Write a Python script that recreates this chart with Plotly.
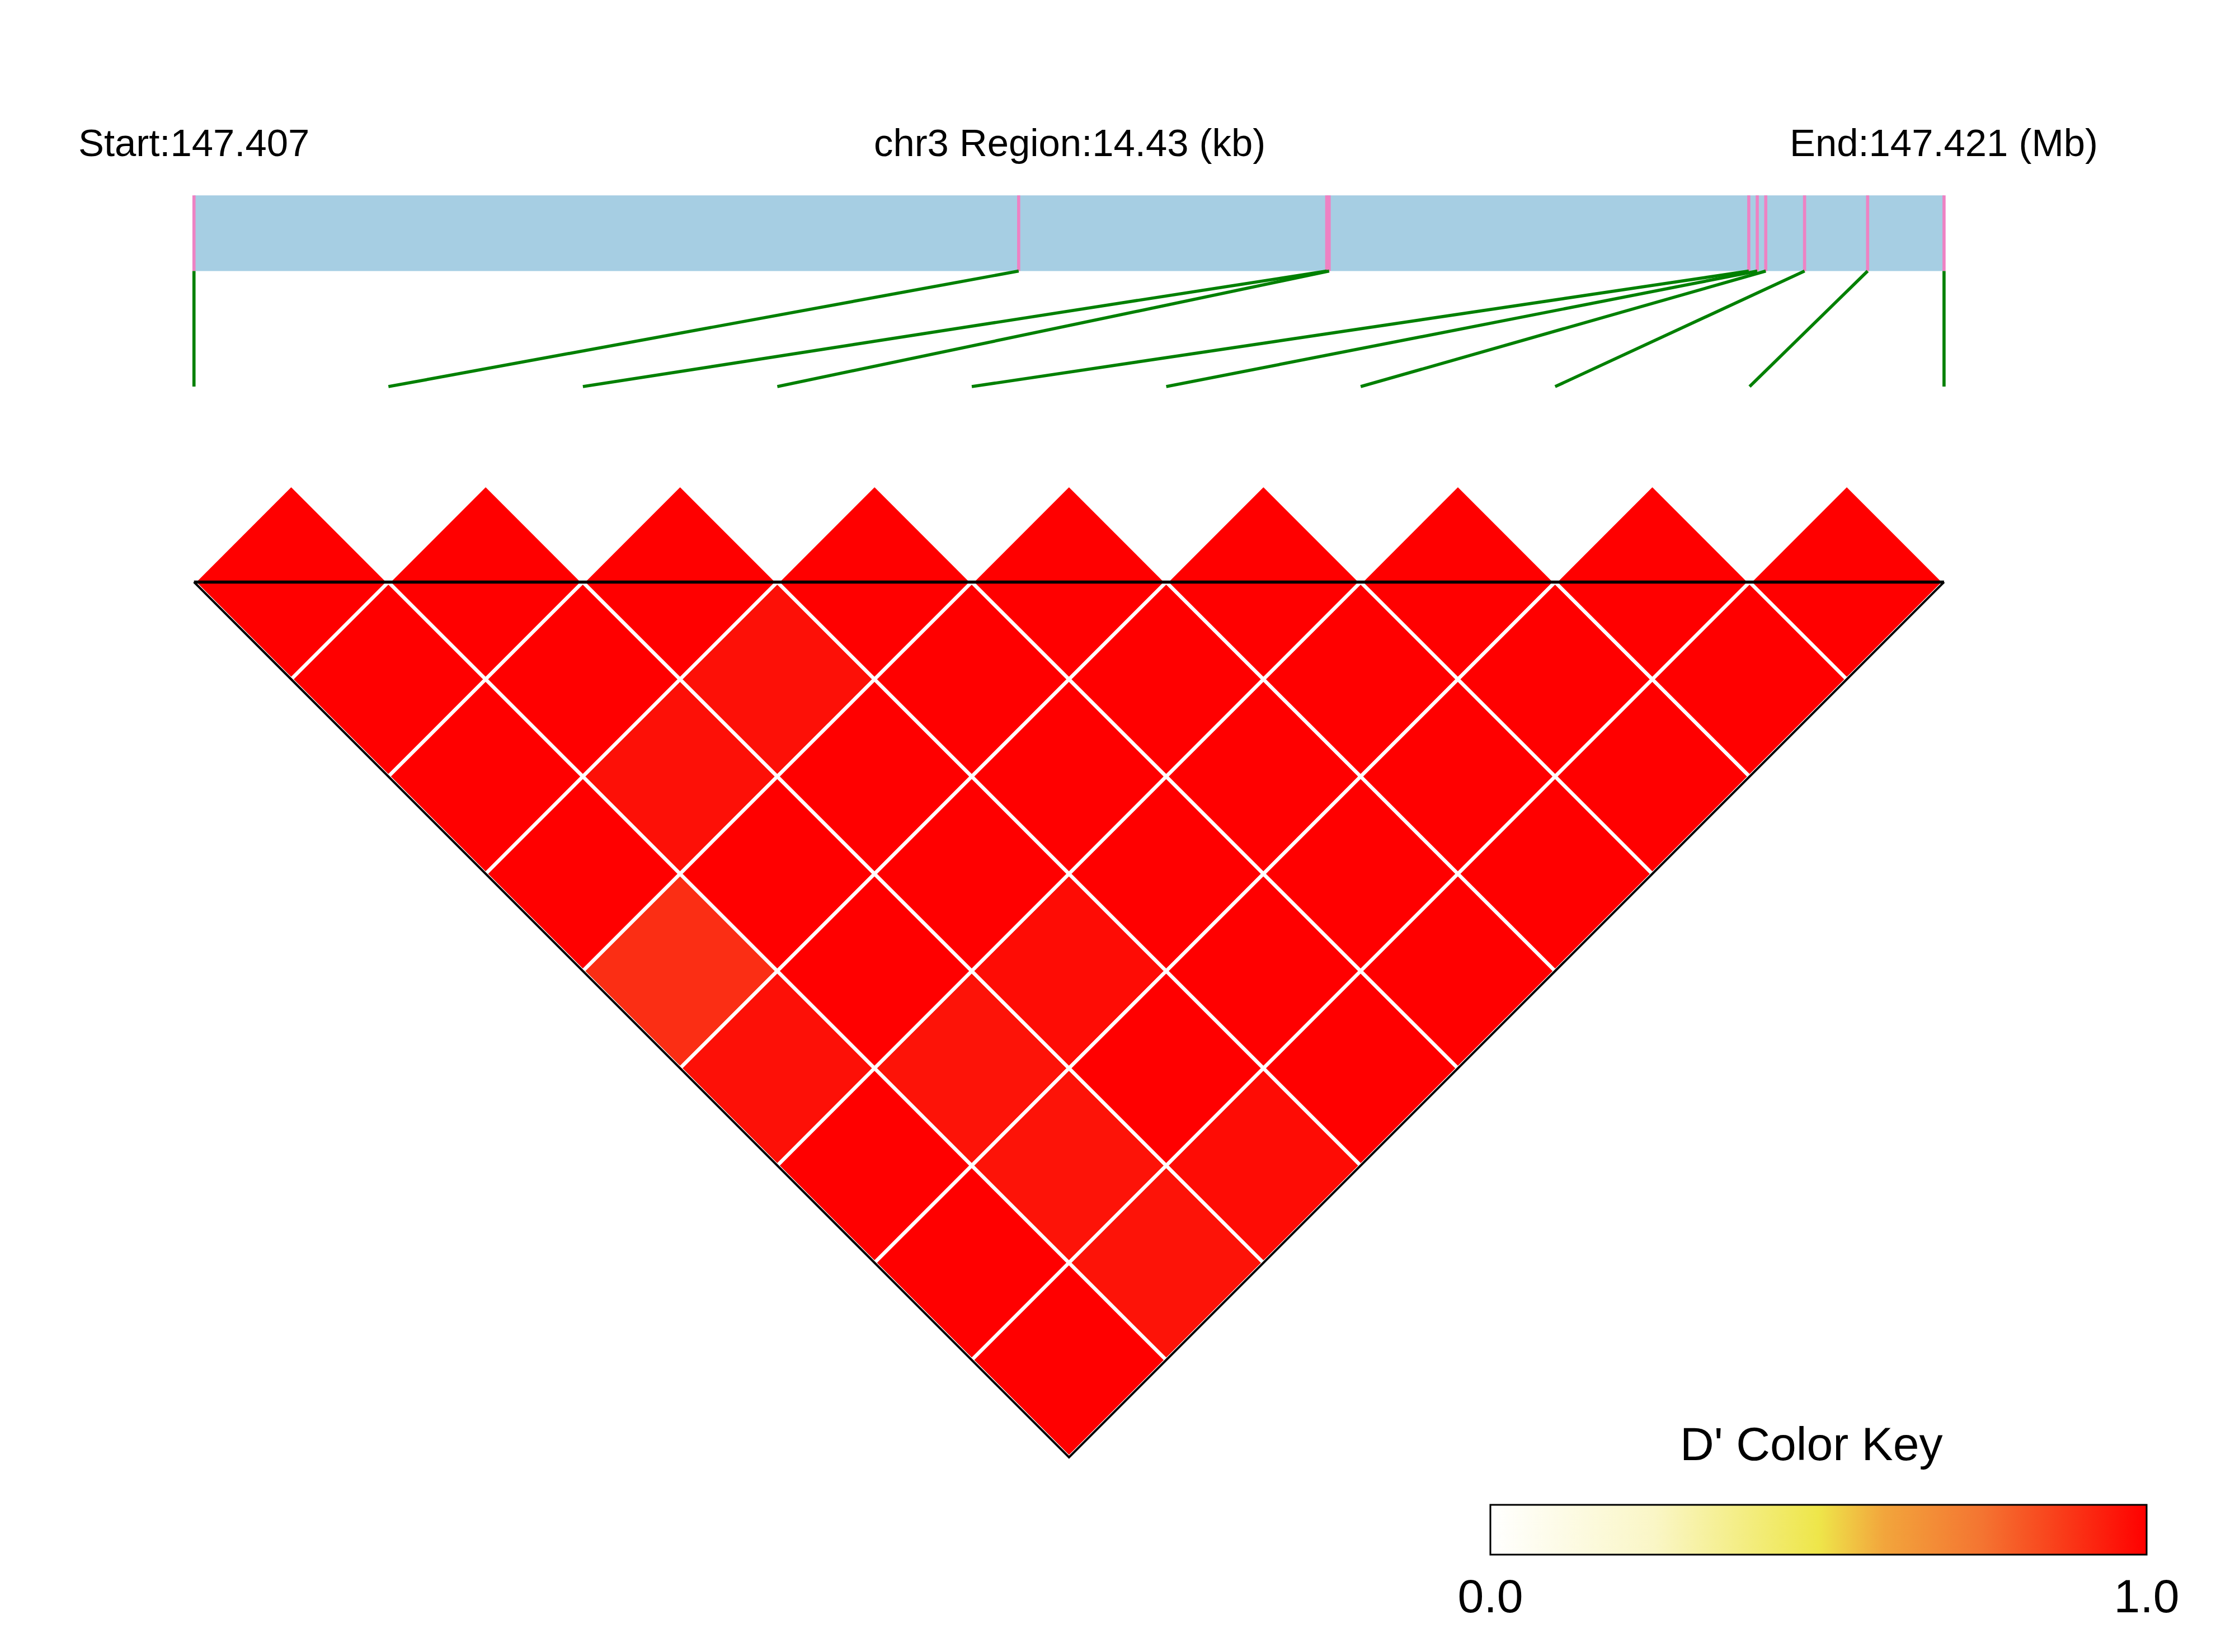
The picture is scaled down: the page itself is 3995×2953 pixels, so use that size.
import plotly.graph_objects as go
from plotly.colors import sample_colorscale

# ---- data ----
snp_pos_mb = [147.40700, 147.41380, 147.41634, 147.41636, 147.41982,
              147.41989, 147.41996, 147.42028, 147.42080, 147.42143]
start_label = "Start:147.407"
region_label = "chr3 Region:14.43 (kb)"
end_label = "End:147.421 (Mb)"
n = len(snp_pos_mb)
# D' values for pairs (i,j); default 1.0
dprime_special = {(0, 5): 0.90, (2, 4): 0.965, (1, 4): 0.965, (0, 6): 0.965,
                  (1, 7): 0.96, (2, 7): 0.975, (1, 8): 0.96, (1, 9): 0.96, (2, 9): 0.975}
key_ticks = [0.0, 1.0]
key_ticklabels = ["0.0", "1.0"]

colorscale = [[0, "#FFFFFF"], [0.25, "#FAF6C6"], [0.5, "#EEE64A"], [0.6, "#F2A53C"],
              [0.75, "#F47431"], [1.0, "#FF0000"]]

# ---- layout constants (image pixel space BW x BH) ----
W, H = 3995, 2953
BW, BH = 1567.0, 1158.0
S = W / BW
M = 8 / S
X0, X1 = 136.0, 1363.0
step = (X1 - X0) / (n - 1)
half = step / 2
YL = 408.0
BAR_T, BAR_B, GREEN_B = 137, 190, 271


def px(v):
    return (v - M) / (BW - 2 * M)


def py(v):
    return 1 - (v - M) / (BH - 2 * M)


fig = go.Figure()

snp_x = [X0 + k * step for k in range(n)]
span = snp_pos_mb[-1] - snp_pos_mb[0]
gen_x = [X0 + (p - snp_pos_mb[0]) / span * (X1 - X0) for p in snp_pos_mb]

for i in range(n):
    for j in range(i + 1, n):
        d = dprime_special.get((i, j), 1.0)
        col = sample_colorscale(colorscale, [d])[0]
        cx = (snp_x[i] + snp_x[j]) / 2
        cy = YL + (j - i - 1) * half
        fig.add_trace(go.Scatter(
            x=[cx - half, cx, cx + half, cx, cx - half],
            y=[cy, cy - half, cy, cy + half, cy],
            mode="lines", fill="toself", fillcolor=col,
            line=dict(color="white", width=2.5 * S), hoverinfo="skip", showlegend=False))

fig.add_trace(go.Scatter(x=[X0, X1], y=[YL, YL], mode="lines",
                         line=dict(color="black", width=2.2 * S), showlegend=False, hoverinfo="skip"))
fig.add_trace(go.Scatter(x=[X0, (X0 + X1) / 2, X1], y=[YL, YL + (n - 1) * half, YL], mode="lines",
                         line=dict(color="black", width=1.6 * S), showlegend=False, hoverinfo="skip"))

fig.add_trace(go.Scatter(x=[X0, X1, X1, X0, X0], y=[BAR_T, BAR_T, BAR_B, BAR_B, BAR_T],
                         mode="lines", fill="toself", fillcolor="#A6CEE3",
                         line=dict(width=0), showlegend=False, hoverinfo="skip"))
for gx, sx in zip(gen_x, snp_x):
    fig.add_trace(go.Scatter(x=[gx, gx], y=[BAR_T, BAR_B], mode="lines",
                             line=dict(color="#EE82C3", width=2.2 * S), showlegend=False, hoverinfo="skip"))
    fig.add_trace(go.Scatter(x=[gx, sx], y=[BAR_B, GREEN_B], mode="lines",
                             line=dict(color="#008000", width=2.2 * S), showlegend=False, hoverinfo="skip"))

fig.add_trace(go.Scatter(
    x=[X0, X0], y=[BAR_T, BAR_T], mode="markers",
    marker=dict(color=[0, 1], cmin=0, cmax=1, colorscale=colorscale, size=0.1, opacity=0,
                showscale=True,
                colorbar=dict(orientation="h", x=px((1045 + 1505) / 2), xanchor="center",
                              len=px(1505) - px(1045), lenmode="fraction",
                              y=py(1128), yanchor="bottom", thickness=35 * S,
                              outlinecolor="black", outlinewidth=1.2 * S,
                              tickvals=key_ticks, ticktext=key_ticklabels, ticks="",
                              tickfont=dict(size=33 * S, family="Liberation Sans", color="black"),
                              xpad=0, ypad=0)),
    showlegend=False, hoverinfo="skip"))

font = dict(family="Liberation Sans", size=27 * S, color="black")
for txt, x in [(start_label, X0), (region_label, 750), (end_label, 1363)]:
    fig.add_annotation(x=x, y=100, text=txt, showarrow=False, font=font, xanchor="center", yanchor="middle")
fig.add_annotation(x=1270, y=1012, text="D' Color Key", showarrow=False,
                   font=dict(family="Liberation Sans", size=33 * S, color="black"),
                   xanchor="center", yanchor="middle")

fig.update_layout(
    width=W - 16, height=H - 16, margin=dict(l=0, r=0, t=0, b=0),
    plot_bgcolor="white", paper_bgcolor="white",
    xaxis=dict(range=[M, BW - M], visible=False, domain=[0, 1]),
    yaxis=dict(range=[BH - M, M], visible=False, domain=[0, 1]),
)
fig.write_html("out.html")
